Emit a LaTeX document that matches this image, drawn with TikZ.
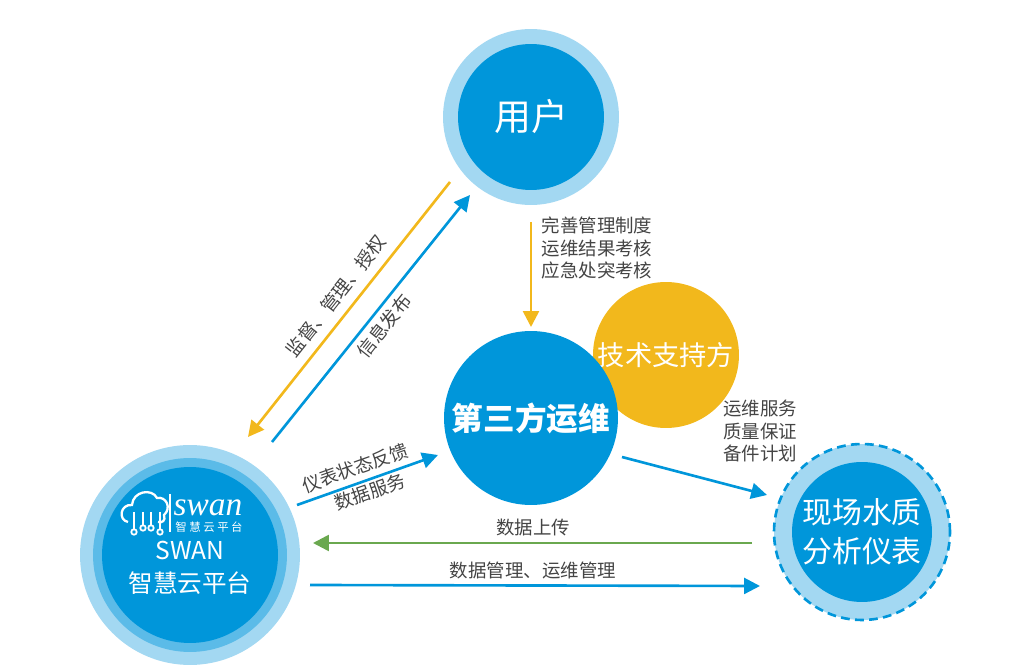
\documentclass[tikz,border=0pt]{standalone}
\usepackage{fontspec}
\setmainfont{Noto Sans CJK SC}
\newfontfamily\logoserif{Liberation Serif}
\usetikzlibrary{arrows.meta, positioning, calc}
\definecolor{deepblue}{HTML}{0096DA}
\definecolor{midblue}{HTML}{5BBBE8}
\definecolor{paleblue}{HTML}{A3D8F2}
\definecolor{sunyellow}{HTML}{F2B81C}
\definecolor{leafgreen}{HTML}{6AA84F}
\definecolor{labelgray}{HTML}{444444}
\tikzset{
  disc/.style={circle, inner sep=0pt, text=white, align=center},
  flow/.style={-{Triangle[length=9pt,width=9pt]}, line width=1.5pt},
  tag/.style={font=\fontsize{10.5pt}{13pt}\selectfont, text=labelgray, align=left}
}
\begin{document}
\begin{tikzpicture}[x=0.02cm, y=-0.02cm]
  \useasboundingbox (0,0) rectangle (1032,668);

  % user circle
  \node[disc, fill=paleblue, minimum size=3.52cm] (userring) at (531,117) {};
  \node[disc, fill=deepblue, minimum size=2.92cm, font=\fontsize{21pt}{24pt}\selectfont] (user) at (531,117) {用户};

  % support and third party
  \node[disc, fill=sunyellow, minimum size=2.92cm] (support) at (666,355) {};
  \node[text=white, font=\fontsize{15.5pt}{20pt}\selectfont] (supporttext) at (666,355) {技术支持方};
  \node[disc, fill=deepblue, minimum size=3.48cm, font=\bfseries\fontsize{18pt}{22pt}\selectfont] (ops) at (531,418) {第三方运维};

  % swan platform
  \node[disc, fill=paleblue, minimum size=4.4cm] (swanouter) at (190,555) {};
  \node[disc, fill=midblue, minimum size=3.88cm] (swanmid) at (190,555) {};
  \node[disc, fill=deepblue, minimum size=3.52cm] (swan) at (190,555) {};
  \node[text=white, font=\fontsize{14pt}{19pt}\selectfont, align=center] (swantext) at (190,568) {SWAN\\智慧云平台};
  % logo
  \draw[white, line width=1.3pt]
    (128,522) .. controls (118,520) and (120,504) .. (132,505)
    .. controls (133,491) and (152,488) .. (157,498)
    .. controls (166,496) and (172,508) .. (164,515)
    .. controls (166,521) and (162,523) .. (158,522);
  \foreach \lx/\ly in {134/532, 143/528, 151/528, 160/532}
    \draw[white, line width=1pt] (\lx,512) -- (\lx,\ly) node[circle, draw=white, fill=deepblue, inner sep=1.1pt] {};
  \draw[white, line width=0.6pt] (170,494) -- (170,532);
  \node[text=white, font=\logoserif\itshape\fontsize{19pt}{19pt}\selectfont, inner sep=0pt] (logoword) at (208,508) {swan};
  \node[text=white, font=\fontsize{6.5pt}{8pt}\selectfont, inner sep=0pt] (logosub) at (209,527) {智 慧 云 平 台};

  % field instruments
  \node[disc, fill=paleblue, draw=deepblue, line width=1.5pt, dash pattern=on 5pt off 3pt, minimum size=3.52cm] (fieldring) at (862,532) {};
  \node[disc, fill=deepblue, minimum size=2.8cm, font=\fontsize{17pt}{22pt}\selectfont] (field) at (862,532) {现场水质\\分析仪表};

  % connector ends
  \coordinate (a1) at (450,182); \coordinate (a2) at (248,437);
  \coordinate (b1) at (272,442); \coordinate (b2) at (470,195);
  \coordinate (c1) at (531,222); \coordinate (c2) at (531,327);
  \coordinate (d1) at (297,505); \coordinate (d2) at (438,455);
  \coordinate (e1) at (622,457); \coordinate (e2) at (767,495);
  \coordinate (f1) at (752,543); \coordinate (f2) at (313,543);
  \coordinate (g1) at (310,585); \coordinate (g2) at (760,586);

  \draw[flow, sunyellow] (a1) -- (a2);
  \draw[flow, deepblue] (b1) -- (b2);
  \draw[flow, sunyellow] (c1) -- (c2);
  \draw[flow, deepblue] (d1) -- (d2);
  \draw[flow, deepblue] (e1) -- (e2);
  \draw[flow, leafgreen] (f1) -- (f2);
  \draw[flow, deepblue] (g1) -- (g2);

  % labels
  \node[tag, rotate=51.6] (l1) at (336,296) {监督、管理、授权};
  \node[tag, rotate=51.6] (l2) at (384,326) {信息发布};
  \node[tag] (l3) at (597,248) {完善管理制度\\运维结果考核\\应急处突考核};
  \node[tag, rotate=19.5] (l4) at (355,468) {仪表状态反馈};
  \node[tag, rotate=19.5] (l5) at (370,492) {数据服务};
  \node[tag] (l6) at (760,431) {运维服务\\质量保证\\备件计划};
  \node[tag] (l7) at (533,528) {数据上传};
  \node[tag] (l8) at (533,570) {数据管理、运维管理};
\end{tikzpicture}
\end{document}
